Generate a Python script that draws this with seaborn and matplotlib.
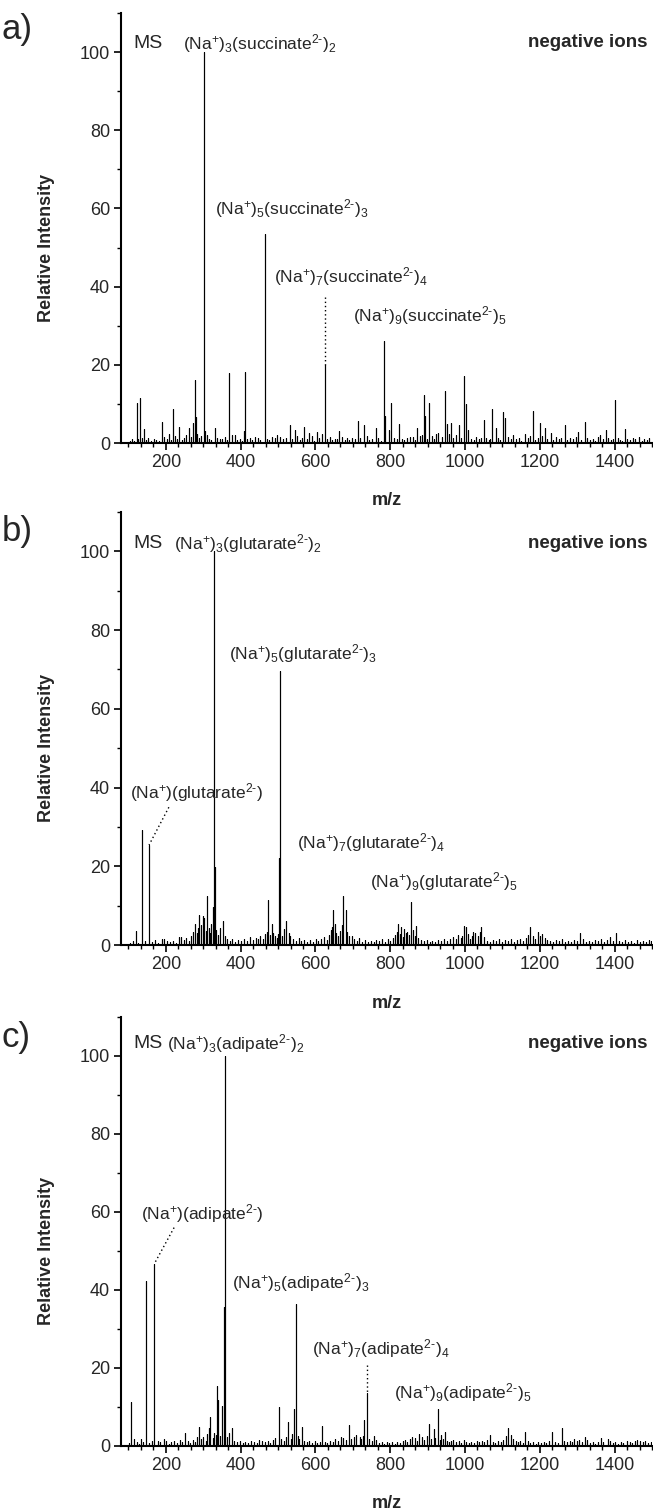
import numpy as np
import pandas as pd
import matplotlib
matplotlib.use("Agg")
import matplotlib.pyplot as plt
from matplotlib.ticker import MultipleLocator, AutoMinorLocator
import seaborn as sns

# ---------------------------------------------------------------- data
# (m/z, relative intensity) of the resolved peaks in each spectrum
succinate_peaks = [
    (122, 10.2), (131, 11.4), (142, 3.6), (189, 5.3), (218, 8.6), (236, 4.1),
    (261, 3.9), (273, 5.2), (277, 16.1), (280, 6.6), (301, 100.0), (304, 3.0),
    (331, 3.8), (370, 17.8), (378, 2.0), (409, 3.0), (411, 18.1), (464, 53.5),
    (466, 4.8), (531, 4.5), (544, 3.4), (570, 4.0), (583, 2.6), (603, 2.8),
    (625, 20.0), (664, 3.0), (713, 5.6), (730, 4.6), (761, 3.8), (784, 26.0),
    (787, 7.0), (796, 3.4), (803, 10.2), (824, 4.9), (852, 1.5), (872, 3.9),
    (890, 12.2), (894, 7.0), (904, 10.2), (929, 2.6), (947, 13.4), (953, 4.9),
    (962, 5.2), (983, 4.7), (996, 17.2), (1003, 10.0), (1009, 3.2), (1050, 5.9),
    (1073, 8.6), (1082, 3.9), (1101, 8.0), (1108, 6.5), (1129, 2.0), (1161, 2.3),
    (1181, 8.2), (1200, 5.2), (1213, 3.9), (1229, 2.6), (1267, 4.7), (1303, 2.8),
    (1320, 5.4), (1361, 2.1), (1376, 3.2), (1400, 10.9), (1402, 7.2), (1427, 3.6),
    (1466, 1.5),
]
succinate_baseline = [
    (104, 0.6), (110, 1.0), (116, 0.5), (126, 0.9), (135, 1.2), (147, 0.7), (153, 1.4),
    (160, 0.6), (167, 1.1), (174, 0.8), (181, 0.5), (195, 1.6), (202, 0.9), (208, 2.3),
    (213, 0.7), (224, 1.8), (229, 1.0), (243, 0.8), (248, 1.3), (255, 2.1), (266, 1.5),
    (284, 2.2), (289, 1.2), (295, 1.7), (309, 2.0), (316, 1.1), (322, 0.8), (338, 1.4),
    (344, 0.9), (350, 1.0), (358, 1.6), (363, 0.7), (384, 2.0), (390, 0.8), (397, 1.1),
    (403, 0.6), (418, 0.9), (424, 1.3), (431, 0.7), (438, 1.5), (446, 1.2), (452, 0.8),
    (471, 1.0), (477, 0.7), (484, 1.6), (491, 1.2), (498, 2.0), (505, 1.5), (512, 0.9),
    (520, 1.3), (537, 1.1), (551, 1.9), (558, 0.8), (563, 1.4), (577, 1.0), (590, 1.7),
    (596, 0.6), (610, 1.2), (617, 2.4), (632, 1.0), (638, 1.5), (645, 0.7), (652, 1.1),
    (658, 0.9), (671, 1.6), (678, 0.8), (684, 1.3), (691, 0.7), (699, 1.2), (706, 0.9),
    (720, 1.4), (737, 1.8), (744, 0.8), (751, 1.1), (768, 1.3), (775, 0.6), (810, 1.4),
    (817, 0.9), (831, 1.0), (838, 0.7), (845, 1.3), (860, 1.5), (866, 0.8), (879, 1.7),
    (884, 2.0), (899, 1.1), (911, 1.9), (917, 1.0), (923, 2.4), (938, 1.6), (958, 2.2),
    (969, 1.4), (976, 2.0), (990, 1.3), (1016, 1.0), (1023, 0.8), (1030, 1.5), (1037, 0.9),
    (1044, 1.2), (1057, 1.4), (1063, 0.7), (1068, 1.1), (1088, 1.3), (1094, 0.8),
    (1115, 1.6), (1122, 1.0), (1136, 0.9), (1143, 1.4), (1150, 0.6), (1168, 1.2),
    (1175, 1.7), (1188, 0.8), (1194, 1.3), (1206, 1.9), (1220, 1.1), (1236, 0.7),
    (1243, 1.5), (1250, 0.9), (1257, 1.2), (1274, 0.8), (1281, 1.4), (1288, 1.0),
    (1296, 1.6), (1310, 0.7), (1327, 1.2), (1334, 0.8), (1341, 1.1), (1348, 0.6),
    (1355, 1.5), (1368, 0.9), (1383, 1.3), (1390, 0.7), (1395, 1.0), (1409, 1.2),
    (1415, 0.8), (1421, 0.5), (1434, 1.1), (1441, 0.7), (1448, 1.4), (1455, 0.9),
    (1472, 0.6), (1479, 1.0), (1486, 0.8), (1493, 1.2),
]

glutarate_peaks = [
    (120, 3.6), (137, 29.3), (155, 25.4), (189, 1.5), (241, 2.0), (278, 5.3),
    (289, 7.6), (298, 7.4), (303, 6.8), (311, 12.5), (326, 9.7), (329, 100.0),
    (331, 19.8), (352, 6.0), (402, 1.0), (474, 11.4), (483, 5.3), (491, 2.4),
    (503, 22.0), (505, 69.5), (522, 6.2), (528, 3.0), (648, 9.0), (652, 5.3),
    (674, 12.4), (681, 8.9), (697, 2.4), (822, 5.3), (830, 4.5), (837, 4.0),
    (855, 11.0), (861, 3.8), (870, 4.9), (998, 4.9), (1003, 4.5), (1022, 3.2),
    (1044, 4.5), (1175, 4.5), (1195, 3.2), (1206, 2.8), (1308, 3.0), (1404, 3.0),
    (1491, 1.3),
]
glutarate_baseline = [
    (104, 0.5), (112, 0.9), (126, 0.6), (145, 1.0), (162, 0.8), (170, 1.2), (178, 0.6),
    (196, 1.4), (203, 0.9), (211, 0.7), (218, 1.1), (226, 0.6), (234, 2.0), (248, 1.2),
    (255, 1.8), (262, 1.0), (268, 2.4), (272, 3.2), (283, 3.0), (286, 4.4), (293, 5.0),
    (307, 3.6), (315, 4.2), (319, 3.0), (322, 5.4), (335, 3.8), (339, 2.6), (345, 4.4),
    (358, 2.2), (364, 1.5), (371, 1.0), (378, 1.6), (385, 0.8), (393, 1.2), (410, 1.5),
    (418, 1.0), (425, 2.0), (432, 1.3), (440, 1.8), (447, 1.4), (453, 2.2), (460, 1.5),
    (466, 2.8), (470, 3.4), (478, 2.6), (487, 3.0), (496, 1.9), (499, 2.8), (510, 2.4),
    (515, 4.0), (533, 2.2), (540, 1.5), (547, 1.1), (555, 1.7), (562, 0.9), (570, 1.3),
    (578, 0.8), (585, 1.2), (593, 0.7), (601, 1.4), (608, 1.0), (615, 1.6), (622, 2.0),
    (630, 1.2), (637, 2.6), (642, 3.8), (645, 4.5), (656, 3.0), (661, 2.2), (666, 3.6),
    (670, 5.0), (685, 3.4), (690, 2.2), (703, 1.5), (710, 1.0), (717, 1.8), (724, 0.8),
    (732, 1.2), (740, 0.7), (748, 1.1), (756, 0.8), (763, 1.3), (771, 0.9), (779, 1.5),
    (786, 0.8), (793, 1.6), (800, 1.1), (808, 1.9), (814, 2.5), (818, 3.2), (826, 2.8),
    (833, 2.0), (842, 3.0), (846, 3.4), (851, 2.6), (865, 2.2), (875, 1.8), (882, 1.2),
    (890, 0.9), (898, 1.3), (906, 0.7), (913, 1.0), (921, 0.8), (929, 1.2), (936, 0.9),
    (944, 1.4), (952, 1.0), (960, 1.6), (967, 2.0), (975, 1.5), (982, 2.6), (989, 1.8),
    (993, 2.2), (1009, 2.8), (1014, 1.6), (1018, 2.4), (1028, 3.0), (1034, 2.2),
    (1039, 3.4), (1050, 2.0), (1058, 1.1), (1066, 0.8), (1074, 1.3), (1082, 0.9),
    (1090, 1.5), (1098, 0.8), (1106, 1.2), (1114, 1.0), (1122, 1.4), (1130, 0.8),
    (1138, 1.2), (1146, 1.6), (1154, 1.0), (1162, 1.9), (1168, 2.6), (1181, 2.4),
    (1188, 1.6), (1200, 2.2), (1213, 1.8), (1220, 1.3), (1228, 1.0), (1236, 0.7),
    (1244, 1.2), (1252, 0.9), (1260, 1.4), (1268, 0.8), (1276, 1.1), (1284, 0.7),
    (1292, 1.3), (1300, 1.0), (1316, 1.4), (1324, 0.8), (1332, 1.1), (1340, 0.7),
    (1348, 1.2), (1356, 0.9), (1364, 1.5), (1372, 0.8), (1380, 1.2), (1388, 2.0),
    (1396, 1.0), (1412, 1.1), (1420, 0.7), (1428, 1.3), (1436, 0.8), (1444, 1.0),
    (1452, 0.6), (1460, 1.2), (1468, 0.8), (1476, 1.0), (1484, 0.7), (1496, 1.1),
]

adipate_peaks = [
    (107, 11.2), (114, 1.8), (133, 1.7), (147, 42.3), (169, 46.7), (178, 1.4),
    (194, 1.7), (237, 1.5), (251, 3.4), (288, 5.0), (300, 2.2), (314, 4.5),
    (319, 7.4), (333, 2.8), (336, 15.5), (340, 11.7), (350, 10.3), (355, 35.6),
    (357, 100.0), (370, 3.3), (376, 4.7), (428, 1.3), (450, 1.5), (502, 10.1),
    (527, 6.1), (542, 9.5), (547, 36.5), (564, 5.0), (618, 5.2), (667, 2.4),
    (689, 5.3), (709, 2.8), (718, 2.4), (730, 6.7), (738, 13.7), (756, 2.6),
    (859, 2.4), (878, 3.1), (904, 5.6), (916, 4.3), (927, 9.4), (937, 2.8),
    (946, 3.7), (969, 1.5), (996, 1.5), (1067, 2.8), (1109, 2.6), (1116, 4.6),
    (1122, 2.8), (1161, 3.5), (1233, 3.7), (1259, 4.6), (1292, 1.8), (1320, 2.2),
    (1363, 2.0), (1381, 1.8), (1433, 1.4), (1461, 1.5),
]
adipate_baseline = [
    (101, 0.7), (122, 0.9), (128, 0.5), (139, 1.1), (156, 0.8), (162, 1.2), (185, 0.9),
    (201, 1.2), (208, 0.6), (215, 0.9), (222, 1.4), (229, 0.7), (244, 1.0), (258, 1.3),
    (265, 0.8), (272, 1.6), (279, 1.1), (284, 2.4), (293, 1.7), (306, 1.4), (310, 3.0),
    (325, 2.0), (329, 3.4), (345, 2.6), (363, 2.2), (383, 1.4), (390, 0.9), (397, 1.2),
    (405, 0.7), (412, 1.0), (420, 0.8), (436, 1.1), (443, 0.7), (458, 1.2), (465, 0.9),
    (472, 1.4), (479, 0.8), (486, 1.6), (493, 2.0), (509, 1.8), (515, 1.2), (520, 2.4),
    (534, 1.9), (537, 3.0), (552, 2.6), (557, 1.7), (570, 1.4), (577, 0.9), (584, 1.3),
    (591, 0.8), (598, 1.2), (605, 0.7), (611, 1.1), (625, 1.0), (632, 0.8), (639, 1.4),
    (646, 1.0), (653, 1.7), (660, 1.2), (674, 2.0), (681, 1.5), (696, 1.8), (702, 2.2),
    (723, 1.9), (726, 2.6), (744, 1.7), (750, 1.2), (763, 1.5), (770, 0.8), (777, 1.1),
    (784, 0.6), (791, 0.9), (798, 0.7), (805, 1.0), (812, 0.6), (819, 1.1), (826, 0.8),
    (833, 1.2), (840, 1.6), (846, 1.0), (852, 1.8), (866, 2.0), (872, 1.4), (885, 2.2),
    (891, 1.6), (898, 2.6), (910, 1.8), (921, 2.0), (932, 1.5), (941, 1.9), (952, 1.3),
    (958, 1.0), (963, 1.4), (976, 0.9), (983, 1.2), (990, 0.8), (1003, 1.1), (1010, 0.7),
    (1017, 1.0), (1024, 0.8), (1031, 1.2), (1038, 0.9), (1045, 1.3), (1052, 1.0),
    (1059, 1.5), (1074, 1.1), (1081, 0.8), (1088, 1.3), (1095, 1.0), (1102, 1.6),
    (1128, 1.9), (1135, 1.2), (1142, 0.9), (1148, 1.3), (1154, 0.8), (1168, 1.2),
    (1175, 0.7), (1182, 1.0), (1189, 0.6), (1196, 0.9), (1203, 0.7), (1210, 1.1),
    (1217, 0.8), (1224, 1.2), (1241, 1.0), (1248, 0.8), (1266, 1.3), (1273, 0.9),
    (1280, 1.4), (1286, 1.0), (1299, 1.2), (1305, 1.5), (1312, 1.0), (1327, 1.6),
    (1334, 0.8), (1341, 1.0), (1348, 0.6), (1355, 0.9), (1370, 1.1), (1388, 1.3),
    (1395, 0.8), (1402, 1.0), (1409, 0.6), (1416, 0.9), (1423, 0.7), (1440, 1.0),
    (1447, 0.7), (1454, 1.2), (1468, 1.4), (1475, 1.0), (1482, 1.3), (1489, 0.8),
    (1496, 1.1),
]

x_tick_values = [200, 400, 600, 800, 1000, 1200, 1400]
y_tick_values = [0, 20, 40, 60, 80, 100]

HYPHEN = "\u2010"


def ion(n_na, anion, n_an):
    """Cluster-ion label such as (Na+)3(succinate2-)2 in mathtext."""
    sub_na = "_{%d}" % n_na if n_na > 1 else ""
    sub_an = "_{%d}" % n_an if n_an > 1 else ""
    return (r"$\mathregular{(Na^{+})" + sub_na + "(" + anion
            + "^{2" + HYPHEN + "})" + sub_an + "}$")


succinate_labels = [ion(3, "succinate", 2), ion(5, "succinate", 3),
                    ion(7, "succinate", 4), ion(9, "succinate", 5)]
glutarate_labels = [ion(3, "glutarate", 2), ion(5, "glutarate", 3),
                    ion(1, "glutarate", 1), ion(7, "glutarate", 4),
                    ion(9, "glutarate", 5)]
adipate_labels = [ion(3, "adipate", 2), ion(1, "adipate", 1),
                  ion(5, "adipate", 3), ion(7, "adipate", 4),
                  ion(9, "adipate", 5)]

# ---------------------------------------------------------------- style
sns.set_theme(style="ticks")
plt.rcParams["font.family"] = ["Liberation Sans", "DejaVu Sans"]
plt.rcParams["mathtext.fontset"] = "custom"
plt.rcParams["mathtext.rm"] = "Liberation Sans"
plt.rcParams["mathtext.it"] = "Liberation Sans:italic"
plt.rcParams["mathtext.bf"] = "Liberation Sans:bold"
plt.rcParams["mathtext.fallback"] = "stixsans"
plt.rcParams["axes.edgecolor"] = "black"


def stick_frame(peaks, baseline):
    """Turn (m/z, intensity) pairs into a stick-spectrum path."""
    pts = sorted(peaks + baseline)
    xs, ys = [], []
    for m, h in pts:
        xs += [m, m, m]
        ys += [0.0, h, 0.0]
    return pd.DataFrame({"m/z": xs, "Relative Intensity": ys})


def peak_height(peaks, mz):
    return dict(peaks)[mz]


fig = plt.figure(figsize=(6.53, 15.10), dpi=100)
W, H = 653.0, 1510.0
left, right = 121.0, 652.0

# panel geometry in pixels: (top of axes, y=0 line)
panels = [
    dict(letter="a)", letter_y=30, top=13, base=443,
         peaks=succinate_peaks, baseline=succinate_baseline,
         ms=(112, 102.3), header=(246, 102.3, succinate_labels[0]), ions_y=102.5,
         texts=[(332, 60.1, succinate_labels[1]),
                (490, 42.5, succinate_labels[2]),
                (701, 32.7, succinate_labels[3])],
         leaders=[(625, 37.3, 625)]),
    dict(letter="b)", letter_y=531, top=512, base=945,
         peaks=glutarate_peaks, baseline=glutarate_baseline,
         ms=(113, 102.0), header=(222, 102.0, glutarate_labels[0]), ions_y=102.0,
         texts=[(369, 74.1, glutarate_labels[1]),
                (105, 38.8, glutarate_labels[2]),
                (551, 26.1, glutarate_labels[3]),
                (746, 16.0, glutarate_labels[4])],
         leaders=[(208, 35.0, 155)]),
    dict(letter="c)", letter_y=1037, top=1017, base=1446,
         peaks=adipate_peaks, baseline=adipate_baseline,
         ms=(112, 103.3), header=(203, 103.3, adipate_labels[0]), ions_y=103.3,
         texts=[(134, 59.7, adipate_labels[1]),
                (378, 41.8, adipate_labels[2]),
                (591, 25.1, adipate_labels[3]),
                (811, 13.6, adipate_labels[4])],
         leaders=[(222, 56.0, 169), (738, 20.8, 738)]),
]

for p in panels:
    ax = fig.add_axes([left / W, 1 - p["base"] / H,
                       (right - left) / W, (p["base"] - p["top"]) / H])
    df = stick_frame(p["peaks"], p["baseline"])
    sns.lineplot(data=df, x="m/z", y="Relative Intensity", estimator=None,
                 sort=False, color="black", linewidth=0.8, ax=ax)

    ax.set_xlim(80, 1500)
    ax.set_ylim(0, 110)
    ax.set_xticks(x_tick_values)
    ax.set_yticks(y_tick_values)
    ax.xaxis.set_minor_locator(AutoMinorLocator(6))
    ax.yaxis.set_minor_locator(MultipleLocator(10))
    ax.tick_params(which="major", direction="out", length=5, width=1.2,
                   labelsize=13, color="black", pad=3)
    ax.tick_params(which="minor", direction="out", length=3, width=1.0,
                   color="black")
    sns.despine(ax=ax)
    for s in ("left", "bottom"):
        ax.spines[s].set_linewidth(1.5)

    ax.set_xlabel("m/z", fontsize=13, fontweight="bold")
    ax.set_ylabel("Relative Intensity", fontsize=13, fontweight="bold")
    ax.xaxis.set_label_coords(0.5, -0.115)
    ax.yaxis.set_label_coords(-0.125, 50 / 110)

    # header line
    ax.text(p["ms"][0], p["ms"][1], "MS", fontsize=14, va="center", ha="left")
    hx, hy, htxt = p["header"]
    ax.text(hx, hy, htxt, fontsize=12.5, va="center", ha="left")
    ax.text(1489, p["ions_y"], "negative ions", fontsize=13.5,
            fontweight="bold", va="center", ha="right")

    for tx, ty, txt in p["texts"]:
        ax.text(tx, ty, txt, fontsize=12.5, va="center", ha="left")

    # dotted leaders from label to the peak apex
    for x0, y0, mz in p["leaders"]:
        ax.plot([x0, mz], [y0, peak_height(p["peaks"], mz)],
                linestyle=(0, (1, 2)), color="black", linewidth=1.0)

    fig.text(0.002, 1 - p["letter_y"] / H, p["letter"], fontsize=25,
             va="center", ha="left")

fig.savefig("out.png", dpi=100)
